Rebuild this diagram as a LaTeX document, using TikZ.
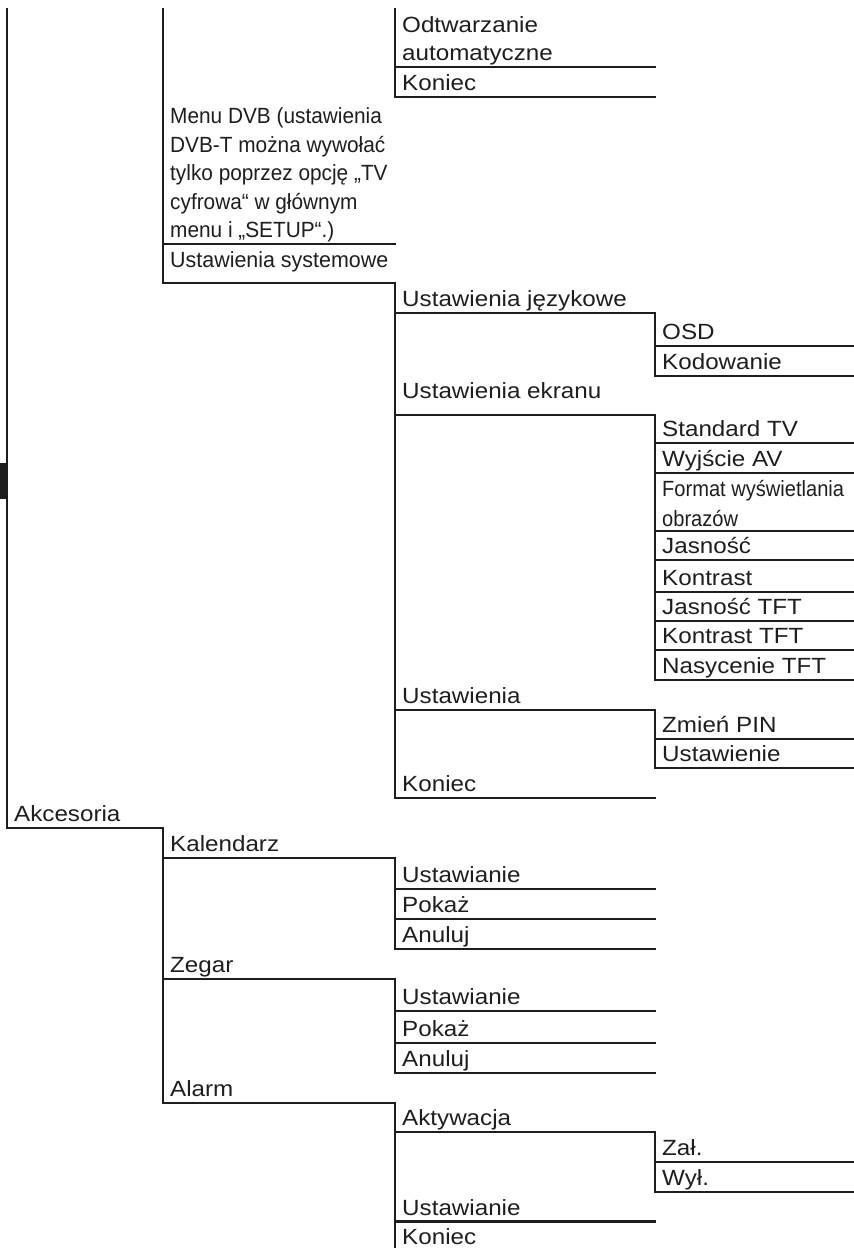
\documentclass[tikz,border=0pt]{standalone}
\usepackage{graphicx}
\usepackage{fontspec}
\setmainfont{Liberation Sans}[FakeStretch=1.1]
\definecolor{ink}{HTML}{1E1E1E}
% text set over several lines, baseline on the last one
\newcommand\lines[1]{\begin{tabular}[b]{@{}l@{}}#1\end{tabular}}
% [baseline lift]{name}{x left}{x right}{y of rule}{text}
\newcommand\menuentry[6][6.5]{%
  \coordinate (#2-a) at (#3,#5);
  \coordinate (#2-b) at (#4,#5);
  \draw[rule] (#2-a) -- (#2-b);
  \node[item] (#2) at ([shift={(7,-#1)}]#2-a) {#6};}
\tikzset{
  rule/.style={draw=ink, line width=2.6pt, line cap=rect},
  item/.style={anchor=base west, inner sep=0pt, text=ink,
    font=\fontsize{22}{28.5}\selectfont},
}
\begin{document}
\begin{tikzpicture}[x=1pt,y=-1pt]
\useasboundingbox (0,0) rectangle (854,1248);
\coordinate (topA) at (7,9);
\coordinate (topB) at (163,9);
\coordinate (topC) at (395,9);
\coordinate (endC) at (395,1248);
\fill[ink] (0,463) rectangle (6,499);

% first column
\menuentry[6.5]{akc}{7}{163}{828}{Akcesoria}

% second column
\menuentry{dvb}{163}{395}{244}{\scalebox{0.86}[1]{\lines{Menu DVB (ustawienia\\DVB-T można wywołać\\tylko poprzez opcję „TV\\cyfrowa“ w głównym\\menu i „SETUP“.)}}}
\menuentry[16]{sys}{163}{395}{283}{\scalebox{0.886}[1]{Ustawienia systemowe}}
\menuentry{kal}{163}{395}{858}{Kalendarz}
\menuentry{zeg}{163}{395}{979}{Zegar}
\menuentry{ala}{163}{395}{1103}{Alarm}

% third column
\menuentry{odt}{395}{655}{67}{\lines{Odtwarzanie\\automatyczne}}
\menuentry{kon1}{395}{655}{97}{Koniec}
\menuentry{jez}{395}{655}{313}{Ustawienia językowe}
\menuentry[17]{ekr}{395}{655}{415}{Ustawienia ekranu}
\menuentry{ust}{395}{655}{710}{Ustawienia}
\menuentry{kon2}{395}{655}{798}{Koniec}
\menuentry{kust}{395}{655}{889}{Ustawianie}
\menuentry{kpok}{395}{655}{919}{Pokaż}
\menuentry{kanu}{395}{655}{949}{Anuluj}
\menuentry{zust}{395}{655}{1011}{Ustawianie}
\menuentry{zpok}{395}{655}{1043}{Pokaż}
\menuentry{zanu}{395}{655}{1073}{Anuluj}
\menuentry{aakt}{395}{655}{1132}{Aktywacja}
\menuentry{aust}{395}{655}{1221.5}{Ustawianie}
\node[item] (akon) at (402,1244) {Koniec};

% fourth column
\menuentry{osd}{655}{854}{346}{OSD}
\menuentry{kod}{655}{854}{376}{Kodowanie}
\menuentry{std}{655}{854}{443}{Standard TV}
\menuentry{wyj}{655}{854}{473}{Wyjście AV}
\menuentry[5]{fmt}{655}{854}{531}{\fontsize{22}{30}\selectfont\scalebox{0.83}[1]{\lines{Format wyświetlania\\obrazów}}}
\menuentry{jas}{655}{854}{560}{Jasność}
\menuentry{kon}{655}{854}{592}{Kontrast}
\menuentry{jtft}{655}{854}{621}{Jasność TFT}
\menuentry{ktft}{655}{854}{650}{Kontrast TFT}
\menuentry{nas}{655}{854}{680}{Nasycenie TFT}
\menuentry{pin}{655}{854}{739}{Zmień PIN}
\menuentry{ustw}{655}{854}{768}{Ustawienie}
\menuentry{zal}{655}{854}{1162}{Zał.}
\menuentry{wyl}{655}{854}{1192}{Wył.}

% branches
\draw[rule] (topA) -- (akc-a);
\draw[rule] (topB) -- (sys-a);
\draw[rule] (akc-b) -- (ala-a);
\draw[rule] (topC) -- (kon1-a);
\draw[rule] (sys-b) -- (kon2-a);
\draw[rule] (kal-b) -- (kanu-a);
\draw[rule] (zeg-b) -- (zanu-a);
\draw[rule] (ala-b) -- (endC);
\draw[rule] (jez-b) -- (kod-a);
\draw[rule] (ekr-b) -- (nas-a);
\draw[rule] (ust-b) -- (ustw-a);
\draw[rule] (aakt-b) -- (wyl-a);
\end{tikzpicture}
\end{document}
